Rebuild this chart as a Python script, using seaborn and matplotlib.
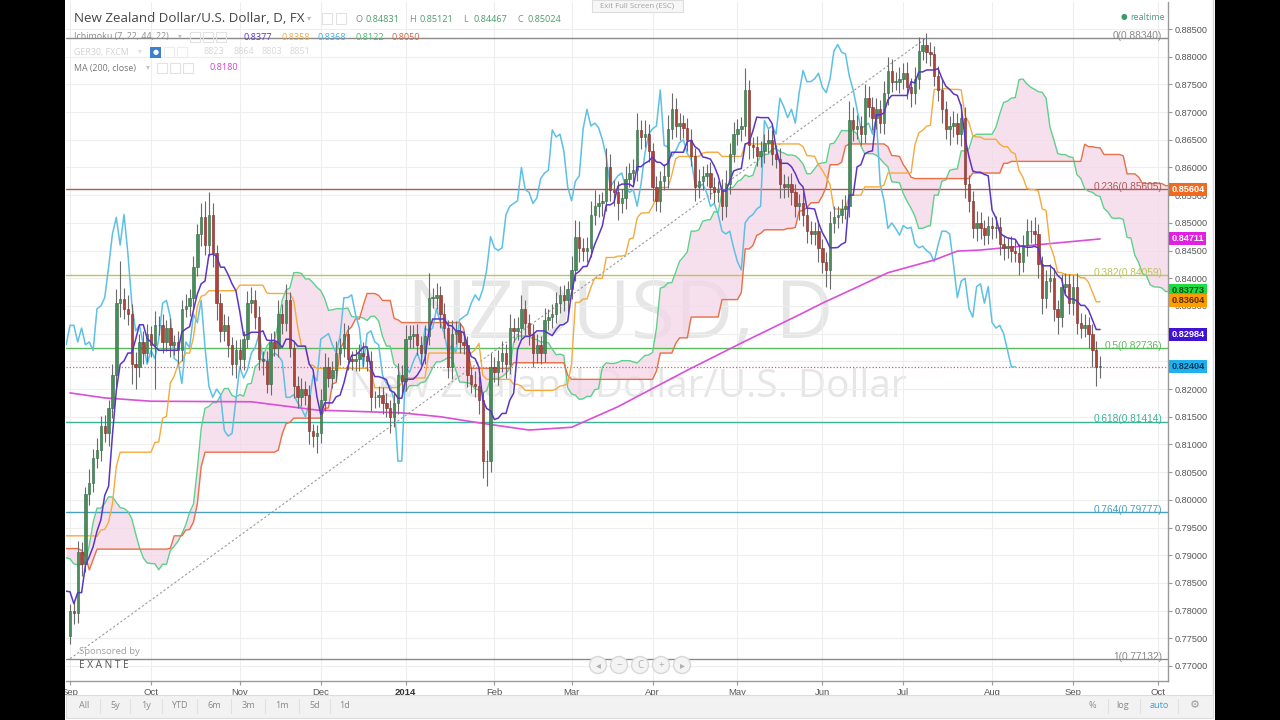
import numpy as np
import pandas as pd
import matplotlib
matplotlib.use("Agg")
import matplotlib.pyplot as plt
import matplotlib.transforms as mtransforms
from matplotlib.patches import Rectangle, Ellipse
import seaborn as sns

# ---------------- DATA ----------------
# prehistory closes (pips*1e4), Jun-Aug 2013, needed for the Ichimoku spans at the left edge
pre_close = [7990, 8035, 8080, 8110, 8085, 8040, 7985, 7955, 7925, 7960,
             8000, 7935, 7850, 7800, 7780, 7750, 7725, 7750, 7780, 7760,
             7740, 7770, 7790, 7820, 7780, 7740, 7710, 7760, 7830, 7890,
             7920, 7900, 7870, 7890, 7920, 7950, 7970, 7940, 7910, 7930,
             7960, 7980, 7950, 7930, 7900, 7860, 7890, 7940, 7990, 8030,
             8070, 8110, 8090, 8040, 7990, 7940, 7900, 7860, 7880, 7910,
             7870, 7830, 7800, 7780, 7760, 7755]
pre_wick_up = [15, 20, 18, 22, 16, 20, 15, 18, 20, 16,
               18, 22, 16, 20, 15, 18, 20, 16, 22, 18,
               20, 16, 18, 22, 15, 20, 18, 16, 22, 20,
               18, 15, 20, 16, 22, 18, 20, 16, 18, 22,
               15, 20, 18, 16, 22, 20, 18, 15, 20, 16,
               22, 20, 18, 16, 15, 20, 18, 22, 16, 20,
               18, 15, 20, 16, 18, 20]
pre_wick_dn = [18, 15, 20, 16, 22, 18, 20, 16, 18, 22,
               16, 20, 18, 22, 15, 20, 18, 16, 22, 20,
               15, 20, 18, 16, 20, 22, 18, 15, 20, 16,
               22, 18, 20, 16, 15, 20, 18, 22, 16, 20,
               18, 16, 20, 22, 18, 15, 20, 16, 18, 22,
               20, 16, 18, 15, 22, 20, 18, 16, 20, 15,
               18, 22, 16, 20, 18, 15]

# visible daily closes, 2013-09-02 .. 2014-09-09 (pips*1e4)
close_pips = [7800, 7795, 7905, 7885, 8010, 8030, 8075, 8090, 8133, 8120,
              8165, 8225, 8355, 8362, 8345, 8335, 8245, 8240, 8285, 8265,
              8300, 8280, 8315, 8315, 8285, 8310, 8280, 8285, 8270, 8345,
              8350, 8365, 8420, 8480, 8510, 8460, 8515, 8445, 8355, 8305,
              8315, 8280, 8245, 8270, 8255, 8290, 8355, 8360, 8330, 8255,
              8250, 8210, 8285, 8275, 8335, 8320, 8360, 8275, 8205, 8185,
              8200, 8190, 8125, 8115, 8120, 8180, 8240, 8220, 8235, 8265,
              8275, 8300, 8255, 8250, 8255, 8265, 8260, 8250, 8185, 8185,
              8190, 8175, 8165, 8150, 8175, 8225, 8215, 8290, 8295, 8300,
              8280, 8265, 8295, 8365, 8365, 8370, 8335, 8310, 8240, 8300,
              8305, 8285, 8280, 8225, 8210, 8205, 8180, 8070, 8070, 8240,
              8230, 8250, 8265, 8245, 8310, 8305, 8310, 8345, 8320, 8300,
              8265, 8280, 8265, 8325, 8330, 8335, 8355, 8370, 8360, 8380,
              8415, 8475, 8455, 8450, 8455, 8515, 8530, 8535, 8540, 8600,
              8560, 8555, 8535, 8545, 8580, 8590, 8595, 8668, 8655, 8660,
              8630, 8565, 8540, 8575, 8585, 8670, 8705, 8675, 8680, 8672,
              8650, 8620, 8565, 8575, 8585, 8590, 8565, 8555, 8560, 8530,
              8570, 8625, 8660, 8670, 8675, 8740, 8640, 8637, 8620, 8630,
              8645, 8650, 8625, 8615, 8570, 8565, 8570, 8555, 8530, 8535,
              8515, 8485, 8480, 8485, 8455, 8430, 8415, 8500, 8510, 8515,
              8525, 8530, 8685, 8670, 8675, 8660, 8725, 8710, 8690, 8705,
              8680, 8735, 8775, 8755, 8755, 8760, 8770, 8745, 8735, 8760,
              8810, 8822, 8808, 8805, 8765, 8740, 8705, 8670, 8675, 8680,
              8660, 8690, 8570, 8540, 8490, 8500, 8490, 8478, 8495, 8490,
              8492, 8462, 8455, 8458, 8450, 8445, 8430, 8460, 8485, 8485,
              8480, 8425, 8365, 8395, 8400, 8345, 8330, 8385, 8390, 8355,
              8385, 8320, 8310, 8315, 8300, 8270, 8240, 8240]
wick_up = [12, 15, 20, 18, 14, 25, 16, 22, 18, 20,
           15, 20, 25, 70, 20, 25, 18, 22, 15, 20,
           18, 14, 25, 16, 20, 15, 18, 12, 20, 16,
           22, 15, 20, 18, 25, 30, 40, 20, 15, 18,
           20, 16, 14, 18, 20, 15, 22, 25, 18, 20,
           14, 18, 16, 20, 25, 18, 30, 15, 12, 18,
           20, 15, 18, 12, 15, 20, 25, 18, 16, 22,
           18, 20, 15, 14, 18, 16, 20, 15, 18, 12,
           16, 14, 18, 15, 20, 22, 18, 25, 20, 16,
           18, 15, 20, 45, 18, 22, 16, 20, 15, 25,
           18, 15, 20, 16, 14, 22, 18, 15, 20, 25,
           18, 20, 22, 16, 25, 18, 20, 25, 16, 15,
           18, 20, 16, 22, 15, 18, 20, 16, 18, 15,
           25, 30, 28, 18, 20, 25, 30, 18, 16, 35,
           25, 18, 20, 16, 22, 18, 20, 30, 18, 25,
           18, 15, 20, 18, 22, 25, 30, 20, 18, 15,
           18, 20, 15, 22, 18, 16, 20, 18, 15, 20,
           25, 20, 22, 18, 16, 40, 18, 15, 20, 18,
           16, 20, 18, 15, 20, 18, 15, 20, 16, 18,
           20, 15, 18, 16, 20, 15, 18, 22, 20, 16,
           18, 20, 35, 25, 20, 18, 25, 22, 18, 20,
           16, 22, 25, 20, 18, 22, 18, 20, 16, 22,
           25, 12, 20, 18, 15, 18, 20, 15, 18, 22,
           18, 25, 20, 16, 18, 22, 20, 16, 18, 15,
           20, 18, 16, 15, 18, 20, 16, 18, 22, 20,
           25, 18, 15, 20, 25, 18, 16, 22, 20, 18,
           20, 25, 18, 20, 15, 18, 16, 20]
wick_dn = [15, 20, 18, 22, 16, 20, 15, 18, 20, 16,
           22, 18, 20, 25, 18, 20, 35, 40, 18, 20,
           16, 22, 80, 18, 20, 16, 22, 18, 25, 20,
           15, 18, 20, 16, 22, 18, 20, 25, 30, 20,
           18, 22, 20, 25, 18, 20, 16, 18, 22, 20,
           25, 18, 20, 16, 18, 20, 15, 18, 22, 20,
           16, 18, 25, 20, 30, 18, 20, 16, 18, 20,
           22, 18, 20, 16, 18, 22, 20, 18, 25, 20,
           18, 20, 16, 30, 18, 20, 22, 18, 16, 20,
           18, 22, 20, 16, 18, 20, 25, 18, 20, 22,
           18, 20, 16, 22, 18, 20, 25, 30, 45, 20,
           18, 22, 20, 25, 18, 20, 16, 18, 22, 20,
           25, 18, 20, 16, 18, 20, 15, 18, 20, 22,
           18, 20, 25, 18, 20, 16, 18, 20, 22, 18,
           20, 25, 30, 18, 20, 16, 18, 20, 22, 18,
           20, 25, 18, 20, 16, 22, 18, 20, 25, 18,
           20, 18, 25, 20, 16, 18, 22, 20, 18, 25,
           20, 18, 16, 20, 22, 18, 25, 20, 18, 20,
           22, 18, 20, 16, 25, 20, 18, 22, 20, 25,
           20, 22, 18, 20, 25, 20, 30, 35, 18, 20,
           16, 18, 20, 22, 18, 20, 16, 18, 22, 20,
           18, 20, 22, 18, 16, 20, 18, 22, 25, 20,
           18, 16, 20, 22, 18, 20, 25, 18, 30, 20,
           18, 22, 25, 20, 18, 22, 20, 18, 16, 20,
           18, 20, 22, 18, 20, 16, 25, 18, 20, 22,
           20, 25, 30, 18, 20, 22, 30, 18, 16, 20,
           22, 20, 18, 16, 25, 30, 35, 20]

# MA(200, close) at sample bars
ma_bars = [0, 9, 21, 47, 64, 86, 96, 106, 119, 130, 142, 160, 174, 189, 195,
           204, 212, 224, 230, 236, 250, 267]
ma_vals = [0.8193, 0.8184, 0.8178, 0.8177, 0.8162, 0.8157, 0.8150, 0.8139, 0.8126,
           0.8131, 0.8168, 0.8234, 0.8283, 0.8334, 0.8355, 0.8384, 0.8410, 0.8433,
           0.8449, 0.8451, 0.8460, 0.8471]

fib_ratios = ["0", "0.236", "0.382", "0.5", "0.618", "0.764", "1"]
fib_prices = [0.88340, 0.85605, 0.84059, 0.82736, 0.81414, 0.79777, 0.77132]
fib_colors = ["#8a8a8a", "#b05a5a", "#b9c45a", "#5cbb5c", "#3bb39b", "#4aa0c0", "#8a8a8a"]
fib_anchor_bars = [0, 222]

month_labels = ["Sep", "Oct", "Nov", "Dec", "2014", "Feb", "Mar", "Apr", "May",
                "Jun", "Jul", "Aug", "Sep", "Oct"]
month_starts = ["2013-09-01", "2013-10-01", "2013-11-01", "2013-12-01", "2014-01-01",
                "2014-02-01", "2014-03-01", "2014-04-01", "2014-05-01", "2014-06-01",
                "2014-07-01", "2014-08-01", "2014-09-01", "2014-10-01"]

price_ticks = [0.770, 0.775, 0.780, 0.785, 0.790, 0.795, 0.800, 0.805, 0.810, 0.815,
               0.820, 0.825, 0.830, 0.835, 0.840, 0.845, 0.850, 0.855, 0.860, 0.865,
               0.870, 0.875, 0.880, 0.885]

box_values = ["0.85604", "0.84711", "0.83773", "0.83604", "0.82984", "0.82404"]
box_colors = ["#f26a1f", "#e21fe2", "#1fdc45", "#ff9c00", "#3f12d4", "#1fb1ee"]
box_text = ["white", "white", "#0a4a10", "#5a2c00", "white", "#0a3a5a"]
last_price = 0.82404

ichi_values = ["0.8377", "0.8358", "0.8368", "0.8122", "0.8050"]
ichi_colors = ["#5b35c5", "#f4a93a", "#3fb0e0", "#3fc06f", "#e0603f"]

# ---------------- FIGURE ----------------
sns.set_theme(style="white")
plt.rcParams['font.family'] = ['Open Sans', 'DejaVu Sans']

W, H = 1280, 720
fig = plt.figure(figsize=(12.8, 7.2), dpi=100)
fig.patch.set_facecolor('black')


def fx(x):
    return x / W


def fy(y):
    return 1 - y / H


def prect(x0, y0, x1, y1, z=-5, **kw):
    fig.add_artist(Rectangle((fx(x0), fy(y1)), fx(x1) - fx(x0), fy(y0) - fy(y1),
                             transform=fig.transFigure, zorder=z, **kw))


def T(x, y, s, color="#777", size=6.8, ha="left", zorder=7, **kw):
    fig.text(fx(x), fy(y), s, color=color, fontsize=size, ha=ha, va="center",
             zorder=zorder, **kw)


prect(65, 0, 1215, 720, fc="white", ec="none")

ax = fig.add_axes([fx(66), fy(681), fx(1168) - fx(66), (681 - 2) / H])
ax.set_facecolor("white")

# ---- prepare OHLC ----
n_pre = len(pre_close)
closes = np.array(pre_close + close_pips, dtype=float) / 10000
ups = np.array(pre_wick_up + wick_up, dtype=float) / 10000
dns = np.array(pre_wick_dn + wick_dn, dtype=float) / 10000
n = min(len(closes), len(ups), len(dns))
closes, ups, dns = closes[:n], ups[:n], dns[:n]
opens = np.concatenate([[closes[0]], closes[:-1]])
highs = np.maximum(opens, closes) + ups
lows = np.minimum(opens, closes) - dns
xs = np.arange(n) - n_pre
df = pd.DataFrame(dict(x=xs, o=opens, h=highs, l=lows, c=closes))

tenkan = ((df.h.rolling(7).max() + df.l.rolling(7).min()) / 2).values
kijun = ((df.h.rolling(22).max() + df.l.rolling(22).min()) / 2).values
span_a = (tenkan + kijun) / 2
span_b = ((df.h.rolling(44).max() + df.l.rolling(44).min()) / 2).values
disp = 22

XMIN, XMAX = -1.04, 284.6
YTOP = 0.885 + 27 / 5539
YBOT = 0.770 - 15 / 5539
ax.set_xlim(XMIN, XMAX)
ax.set_ylim(YBOT, YTOP)

# grid
ax.set_axisbelow(True)
ax.grid(True, color="#eeeeee", lw=0.8)

# watermark
ax.text(0.503, 0.536, "NZDUSD, D", transform=ax.transAxes, ha="center", va="center",
        fontsize=58, color="#e6e6e6", zorder=0.5)
ax.text(0.51, 0.433, "New Zealand Dollar/U.S. Dollar", transform=ax.transAxes,
        ha="center", va="center", fontsize=28, color="#e6e6e6", zorder=0.5)

# fib levels
for r, p, c in zip(fib_ratios, fib_prices, fib_colors):
    ax.axhline(p, color=c, lw=1.0, zorder=1.5)
    ax.text(283.1, p + 0.00038, f"{r}({p:.5f})", ha="right", va="center", color=c,
            fontsize=7.3, zorder=6, family=["Liberation Sans", "DejaVu Sans"])
ax.plot(fib_anchor_bars, [fib_prices[-1], fib_prices[0]], color="#9a9a9a", lw=0.8,
        ls=(0, (2, 2)), zorder=1.6)
ax.axhline(last_price, color="#e05a5a", lw=0.9, ls=(0, (1, 1.6)), zorder=1.6)

# cloud
xl = xs + disp
m = np.isfinite(span_a) & np.isfinite(span_b) & (xl >= -3) & (xl <= 287)
ax.fill_between(xl[m], span_a[m], span_b[m], color="#f5d6e8", alpha=0.75, lw=0, zorder=1)


def line(xv, yv, color, lw=1.1, z=4):
    mm = np.isfinite(yv) & (xv >= -3) & (xv <= 287)
    sns.lineplot(x=xv[mm], y=yv[mm], ax=ax, color=color, linewidth=lw, zorder=z,
                 estimator=None, sort=False)


line(xl, span_a, "#5fd08a", 1.0, 2)
line(xl, span_b, "#ea6f46", 1.0, 2)
line(xs - disp, closes, "#5ec0e4", 1.1, 2.5)
line(np.array(ma_bars, float), np.array(ma_vals), "#d94fd9", 1.2, 2.6)
line(xs, kijun, "#f4ab3e", 1.0, 2.7)

# candles
v = xs >= 0
cx, co, ch, cl, cc = xs[v], opens[v], highs[v], lows[v], closes[v]
up = cc >= co
ax.vlines(cx, cl, ch, color="#6a6a6a", lw=0.8, zorder=3)
bh = np.maximum(np.abs(cc - co), 0.00007)
bb = np.minimum(cc, co)
ax.bar(cx[up], bh[up], bottom=bb[up], width=0.62, color="#4a8c5c", edgecolor="#2e6a3e",
       linewidth=0.4, zorder=3.2)
ax.bar(cx[~up], bh[~up], bottom=bb[~up], width=0.62, color="#b0443b", edgecolor="#7a2a24",
       linewidth=0.4, zorder=3.2)

line(xs, tenkan, "#5b35c5", 1.1, 4)

# axes styling
for s in ["left", "top"]:
    ax.spines[s].set_visible(False)
ax.spines["right"].set_color("#9a9a9a")
ax.spines["bottom"].set_color("#9a9a9a")
ax.spines["right"].set_linewidth(1)
ax.spines["bottom"].set_linewidth(1)
ax.yaxis.tick_right()
ax.set_yticks(price_ticks)
covered = [0.825, 0.830]
ax.set_yticklabels(["" if any(abs(t - c) < 1e-6 for c in covered) else f"{t:.5f}"
                    for t in price_ticks])
ax.tick_params(axis="y", length=3, width=0.8, color="#9a9a9a", pad=2, labelsize=6.6,
               labelcolor="#555555")
for lab in ax.get_yticklabels():
    lab.set_family(["Liberation Sans", "DejaVu Sans"])

dates = pd.bdate_range("2013-09-02", periods=320)
mpos = []
for ms in month_starts:
    mpos.append(int(np.argmax(dates >= pd.Timestamp(ms))))
ax.set_xticks(mpos)
ax.set_xticklabels(month_labels)
ax.tick_params(axis="x", length=3, width=0.8, color="#9a9a9a", pad=2, labelsize=6.8,
               labelcolor="#555555", bottom=True)
for lab in ax.get_xticklabels():
    lab.set_family(["Liberation Sans", "DejaVu Sans"])
    if lab.get_text() == "2014":
        lab.set_fontweight("bold")
        lab.set_color("#333333")
ax.set_xlabel("")
ax.set_ylabel("")

# price boxes on the axis
tr = mtransforms.blended_transform_factory(fig.transFigure, ax.transData)
for val, fc, tc in zip(box_values, box_colors, box_text):
    fig.text(fx(1171.5), float(val), val, transform=tr, ha="left", va="center",
             fontsize=6.6, color=tc, fontweight="bold", family=["Liberation Sans", "DejaVu Sans"],
             bbox=dict(boxstyle="square,pad=0.22", fc=fc, ec="none"), zorder=8)

# right border
fig.add_artist(plt.Line2D([fx(1213), fx(1213)], [fy(0), fy(695)], transform=fig.transFigure,
                          color="#d5d5d5", lw=1, zorder=6))

# ---------------- header texts ----------------
T(74, 19, "New Zealand Dollar/U.S. Dollar, D, FX", "#454545", 9.6)
T(307, 19, "▾", "#c0c0c0", 6)
prect(322, 13, 332, 24, z=6, fc="none", ec="#e2e2e2", lw=0.8)
prect(336, 13, 346, 24, z=6, fc="none", ec="#e2e2e2", lw=0.8)
green = "#4a9d6a"
for xx, s, c in [(355, "O", "#888"), (365, "0.84831", green), (409, "H", "#888"),
                 (419, "0.85121", green), (463, "L", "#888"), (473, "0.84467", green),
                 (517, "C", "#888"), (527, "0.85024", green)]:
    T(xx, 20, s, c, 6.6)

T(74, 37, "Ichimoku (7, 22, 44, 22)", "#8a8a8a", 6.4)
T(178, 37, "▾", "#c0c0c0", 5.5)
for bx in (190, 203, 216):
    prect(bx, 32, bx + 10, 42, z=6, fc="none", ec="#e2e2e2", lw=0.8)
for xx, s, c in zip((244, 281, 318, 355, 392), ichi_values, ichi_colors):
    T(xx, 37, s, c, 6.6)

T(74, 52, "GER30, FXCM", "#d2d2d2", 6.4)
T(138, 52, "▾", "#dddddd", 5.5)
prect(150, 47, 161, 58, z=6, fc="#3d7fd0", ec="none")
T(155.5, 52.5, "●", "white", 5, ha="center")
for bx in (164, 177):
    prect(bx, 47, bx + 10, 57, z=6, fc="none", ec="#ececec", lw=0.8)
for xx, s in zip((203, 233, 262, 290), ("8823", "8864", "8803", "8851")):
    T(xx, 52, s, "#d8d8d8", 6.4)

T(74, 68, "MA (200, close)", "#777777", 6.4)
T(146, 68, "▾", "#c0c0c0", 5.5)
for bx in (157, 170, 183):
    prect(bx, 63, bx + 10, 73, z=6, fc="none", ec="#e2e2e2", lw=0.8)
T(210, 68, "0.8180", "#d040d0", 6.6)

# exit full screen
prect(592, 0, 683, 12, z=6, fc="#f7f7f7", ec="#dddddd", lw=0.8)
T(637.5, 6, "Exit Full Screen (ESC)", "#a0a0a0", 5.6, ha="center", zorder=9)

# realtime
T(1124, 17, "●", "#3c9a6a", 5.5, ha="center")
T(1130, 17, "realtime", "#4f9a7c", 6.4)

# sponsor
T(79, 651, "Sponsored by", "#a0a0a0", 6.8)
T(79, 665, "E X A N T E", "#555555", 7.2)

# navigation buttons
for cxp, sym in zip((598, 619, 640, 661, 682), ("◂", "−", "C", "+", "▸")):
    fig.add_artist(Ellipse((fx(cxp), fy(665)), 17 / W, 17 / H, transform=fig.transFigure,
                           fc="#f4f4f4", ec="#d8d8d8", lw=1, zorder=6))
    T(cxp, 665.5, sym, "#b0b0b0", 7, ha="center", zorder=7)

# bottom toolbar
prect(66, 695, 1213, 718, z=6, fc="#f2f2f2", ec="#dcdcdc", lw=0.8)
for xx, s in [(84, "All"), (115, "5y"), (146, "1y"), (179, "YTD"), (214, "6m"), (248, "3m"),
              (282, "1m"), (315, "5d"), (345, "1d")]:
    T(xx, 706, s, "#8a8a8a", 6.6, ha="center", zorder=7)
for xx in (100, 130, 162, 197, 231, 265, 299, 330):
    fig.add_artist(plt.Line2D([fx(xx), fx(xx)], [fy(699), fy(713)], transform=fig.transFigure,
                              color="#e0e0e0", lw=0.8, zorder=7))
T(1092, 706, "%", "#8a8a8a", 6.6, ha="center", zorder=7)
T(1123, 706, "log", "#8a8a8a", 6.6, ha="center", zorder=7)
T(1159, 706, "auto", "#3aa0e0", 6.6, ha="center", zorder=7)
T(1195, 706, "⚙", "#9a9a9a", 8, ha="center", zorder=7)
for xx in (1108, 1140, 1178):
    fig.add_artist(plt.Line2D([fx(xx), fx(xx)], [fy(699), fy(713)], transform=fig.transFigure,
                              color="#e0e0e0", lw=0.8, zorder=7))

# black side strips
prect(0, 0, 65, 720, z=20, fc="black", ec="none")
prect(1215, 0, 1280, 720, z=20, fc="black", ec="none")

fig.savefig("out.png", dpi=100, facecolor=fig.get_facecolor())
